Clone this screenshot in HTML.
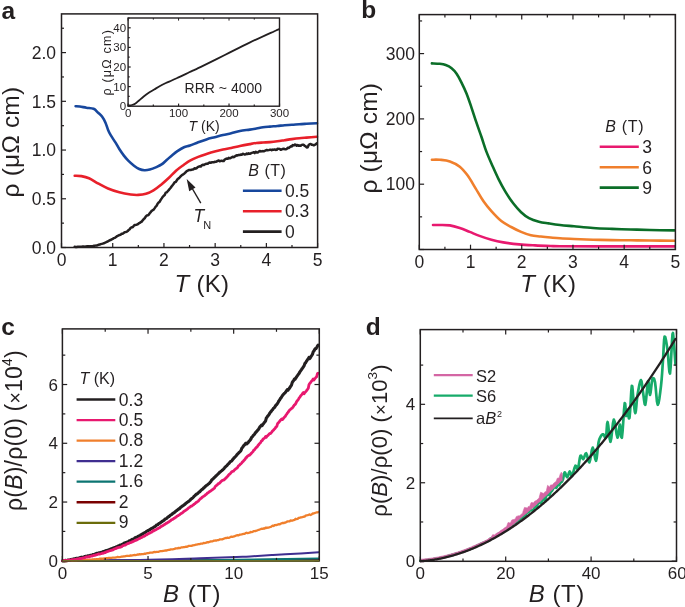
<!DOCTYPE html>
<html><head><meta charset="utf-8"><style>
html,body{margin:0;padding:0;background:#fff;}
body{width:685px;height:607px;overflow:hidden;}
svg{display:block;will-change:transform;}
text{font-family:"Liberation Sans", sans-serif;}
</style></head><body>
<svg width="685" height="607" viewBox="0 0 685 607" font-family='"Liberation Sans", sans-serif' fill="#231f20">
<rect width="685" height="607" fill="#fff"/>
<path d="M75.6,106.2 C76.3,106.25 78,106.25 79.8,106.5 C81.6,106.75 84.1,107.32 86.4,107.7 C88.7,108.08 91.63,107.95 93.6,108.8 C95.57,109.65 96.77,111.48 98.2,112.8 C99.63,114.12 100.98,115.05 102.2,116.7 C103.42,118.35 104.52,120.5 105.5,122.7 C106.48,124.9 107.23,127.82 108.1,129.9 C108.97,131.98 109.48,133.12 110.7,135.2 C111.92,137.28 113.97,140.1 115.4,142.4 C116.83,144.7 117.88,146.8 119.3,149 C120.72,151.2 122.37,153.62 123.9,155.6 C125.43,157.58 126.82,159.22 128.5,160.9 C130.18,162.58 132.22,164.35 134,165.7 C135.78,167.05 137.45,168.23 139.2,169 C140.95,169.77 142.73,170.2 144.5,170.3 C146.27,170.4 147.82,170.13 149.8,169.6 C151.78,169.07 154.43,167.97 156.4,167.1 C158.37,166.23 159.85,165.62 161.6,164.4 C163.35,163.18 165.13,161.33 166.9,159.8 C168.67,158.27 170.45,156.63 172.2,155.2 C173.95,153.77 175.43,152.52 177.4,151.2 C179.37,149.88 181.9,148.23 184,147.3 C186.1,146.37 187.63,146.43 190,145.6 C192.37,144.77 195.45,143.33 198.2,142.3 C200.95,141.27 203.75,140.25 206.5,139.4 C209.25,138.55 211.95,137.93 214.7,137.2 C217.45,136.47 220.25,135.65 223,135 C225.75,134.35 228.38,133.97 231.2,133.3 C234.02,132.63 236.8,131.62 239.9,131 C243,130.38 247.05,130.02 249.8,129.6 C252.55,129.18 254.2,128.88 256.4,128.5 C258.6,128.12 260.73,127.62 263,127.3 C265.27,126.98 267.62,126.82 270,126.6 C272.38,126.38 274.87,126.23 277.3,126 C279.73,125.77 282.17,125.4 284.6,125.2 C287.03,125 289.47,124.97 291.9,124.8 C294.33,124.63 296.77,124.37 299.2,124.2 C301.63,124.03 303.53,123.95 306.5,123.8 C309.47,123.65 315.25,123.38 317,123.3" fill="none" stroke="#17479d" stroke-width="2.6" stroke-linejoin="round" stroke-linecap="round" />
<path d="M74.7,175.8 C75.82,175.85 79.02,175.7 81.4,176.1 C83.78,176.5 86.15,176.93 89,178.2 C91.85,179.47 95.33,181.98 98.5,183.7 C101.67,185.42 104.53,187.07 108,188.5 C111.47,189.93 115.52,191.3 119.3,192.3 C123.08,193.3 127.53,194.07 130.7,194.5 C133.87,194.93 135.77,195.02 138.3,194.9 C140.83,194.78 143.37,194.55 145.9,193.8 C148.43,193.05 150.97,191.92 153.5,190.4 C156.03,188.88 158.57,186.77 161.1,184.7 C163.63,182.63 166.17,180.38 168.7,178 C171.23,175.62 173.77,172.62 176.3,170.4 C178.83,168.18 181.62,166.33 183.9,164.7 C186.18,163.07 187.62,161.9 190,160.6 C192.38,159.3 195.45,158 198.2,156.9 C200.95,155.8 203.75,154.9 206.5,154 C209.25,153.1 211.95,152.25 214.7,151.5 C217.45,150.75 220.25,150.08 223,149.5 C225.75,148.92 228.38,148.58 231.2,148 C234.02,147.42 236.8,146.65 239.9,146 C243,145.35 247.05,144.6 249.8,144.1 C252.55,143.6 254.2,143.27 256.4,143 C258.6,142.73 260.73,142.65 263,142.5 C265.27,142.35 267.62,142.3 270,142.1 C272.38,141.9 274.87,141.62 277.3,141.3 C279.73,140.98 282.17,140.57 284.6,140.2 C287.03,139.83 289.47,139.43 291.9,139.1 C294.33,138.77 296.77,138.45 299.2,138.2 C301.63,137.95 303.53,137.83 306.5,137.6 C309.47,137.37 315.25,136.93 317,136.8" fill="none" stroke="#e8202a" stroke-width="2.6" stroke-linejoin="round" stroke-linecap="round" />
<path d="M74.7,246.79 L75.7,246.97 L76.7,246.91 L77.7,246.73 L78.7,246.76 L79.7,246.72 L80.7,246.74 L81.7,246.74 L82.7,246.5 L83.7,246.43 L84.7,246.63 L85.7,246.46 L86.7,246.51 L87.7,246.24 L88.7,246.34 L89.7,246.37 L90.7,246.17 L91.7,246.31 L92.7,246.2 L93.7,245.82 L94.7,245.66 L95.7,245.62 L96.7,245.52 L97.7,245.11 L98.7,244.8 L99.7,244.58 L100.7,244.16 L101.7,243.9 L102.7,243.63 L103.7,243.28 L104.7,242.82 L105.7,242.4 L106.7,241.94 L107.7,241.51 L108.7,240.93 L109.7,240.3 L110.7,240 L111.7,239.37 L112.7,238.85 L113.7,238.16 L114.7,237.83 L115.7,237.22 L116.7,236.43 L117.7,235.92 L118.7,235.46 L119.7,234.89 L120.7,234.8 L121.7,233.65 L122.7,233.65 L123.7,233.02 L124.7,232.15 L125.7,232.01 L126.7,231.78 L127.7,231.07 L128.7,229.93 L129.7,229.25 L130.7,227.8 L131.7,227.26 L132.7,227.15 L133.7,225.95 L134.7,224.99 L135.7,224.89 L136.7,224.66 L137.7,224.24 L138.7,223.43 L139.7,222.89 L140.7,222.19 L141.7,221.62 L142.7,220.33 L143.7,219.16 L144.7,218.23 L145.7,216.62 L146.7,215.58 L147.7,215.35 L148.7,214.7 L149.7,213.27 L150.7,212.08 L151.7,210.84 L152.7,210.19 L153.7,209.64 L154.7,208.16 L155.7,206.59 L156.7,205.63 L157.7,203.51 L158.7,202.49 L159.7,201.68 L160.7,199.88 L161.7,198.38 L162.7,196.8 L163.7,195.8 L164.7,195 L165.7,192.62 L166.7,192.36 L167.7,191.23 L168.7,190.16 L169.7,188.83 L170.7,187.75 L171.7,186.23 L172.7,185.1 L173.7,183.76 L174.7,182.15 L175.7,182 L176.7,180.56 L177.7,179.06 L178.7,178.4 L179.7,177.37 L180.7,176.24 L181.7,175.29 L182.7,174.63 L183.7,173.92 L184.7,173.17 L185.7,172.32 L186.7,171.12 L187.7,170.7 L188.7,170.08 L189.7,170.12 L190.7,170.08 L191.7,169.7 L192.7,169.42 L193.7,169.17 L194.7,168.23 L195.7,168.66 L196.7,168.18 L197.7,167.17 L198.7,166.73 L199.7,166.27 L200.7,166.6 L201.7,165.42 L202.7,164.82 L203.7,165.12 L204.7,164.53 L205.7,163.94 L206.7,163.72 L207.7,163.73 L208.7,162.82 L209.7,162.51 L210.7,162.74 L211.7,162.32 L212.7,162.17 L213.7,162.36 L214.7,161.73 L215.7,161.88 L216.7,161.53 L217.7,160.86 L218.7,160.47 L219.7,161.32 L220.7,160.93 L221.7,160.66 L222.7,161.08 L223.7,161.03 L224.7,159.56 L225.7,158.95 L226.7,158.55 L227.7,158.84 L228.7,157.88 L229.7,158.28 L230.7,157.97 L231.7,157.48 L232.7,156.7 L233.7,157.19 L234.7,156.59 L235.7,155.9 L236.7,155.24 L237.7,155.5 L238.7,154.98 L239.7,155 L240.7,154.52 L241.7,154.71 L242.7,153.86 L243.7,153.97 L244.7,154.61 L245.7,154.35 L246.7,153.52 L247.7,154.04 L248.7,153.24 L249.7,153.84 L250.7,153.46 L251.7,152.93 L252.7,152.6 L253.7,152.17 L254.7,153.06 L255.7,151.88 L256.7,152.61 L257.7,152.52 L258.7,151.73 L259.7,150.92 L260.7,151.44 L261.7,151.36 L262.7,151.09 L263.7,151.16 L264.7,150.96 L265.7,150.48 L266.7,149.89 L267.7,150.37 L268.7,150.15 L269.7,149.85 L270.7,149.65 L271.7,150.2 L272.7,149.62 L273.7,149.73 L274.7,149.38 L275.7,149.91 L276.7,149.84 L277.7,148.69 L278.7,148.86 L279.7,148.99 L280.7,149.76 L281.7,149.5 L282.7,148.94 L283.7,148.74 L284.7,149.19 L285.7,149.2 L286.7,148.99 L287.7,147.84 L288.7,148.02 L289.7,147.21 L290.7,146.37 L291.7,146.42 L292.7,145.09 L293.7,145.43 L294.7,144.59 L295.7,144.75 L296.7,145.77 L297.7,145.06 L298.7,145.8 L299.7,145.58 L300.7,145.7 L301.7,144.89 L302.7,144.68 L303.7,144.68 L304.7,145.88 L305.7,146.38 L306.7,147.46 L307.7,147.19 L308.7,144.89 L309.7,144.12 L310.7,143.89 L311.7,144.64 L312.7,144.71 L313.7,145.32 L314.7,144.78 L315.7,144.33 L316.7,143.25" fill="none" stroke="#231f20" stroke-width="2.5" stroke-linejoin="round" stroke-linecap="round" />
<line x1="200.8" y1="203.1" x2="190.5" y2="185.5" stroke="#231f20" stroke-width="1.4"/>
<polygon points="186.7,179.1 189.2,191.2 195.5,187.4" fill="#231f20"/>
<text x="193.4" y="221.9" font-size="17.5" text-anchor="start" font-style="italic">T</text>
<text x="203.2" y="228.7" font-size="11" text-anchor="start" >N</text>
<line x1="242.9" y1="190.8" x2="281.6" y2="190.8" stroke="#17479d" stroke-width="2.6"/>
<text x="284.9" y="197.1" font-size="17.5" text-anchor="start" >0.5</text>
<line x1="242.9" y1="211.2" x2="281.6" y2="211.2" stroke="#e8202a" stroke-width="2.6"/>
<text x="284.9" y="217.45" font-size="17.5" text-anchor="start" >0.3</text>
<line x1="242.9" y1="231.6" x2="281.6" y2="231.6" stroke="#231f20" stroke-width="2.6"/>
<text x="284.9" y="237.8" font-size="17.5" text-anchor="start" >0</text>
<text x="248.3" y="176" font-size="16" text-anchor="start" textLength="37.6" lengthAdjust="spacing"><tspan font-style="italic">B</tspan> (T)</text>
<line x1="61.5" y1="247.5" x2="61.5" y2="243" stroke="#231f20" stroke-width="1.2"/>
<line x1="112.72" y1="247.5" x2="112.72" y2="243" stroke="#231f20" stroke-width="1.2"/>
<line x1="163.94" y1="247.5" x2="163.94" y2="243" stroke="#231f20" stroke-width="1.2"/>
<line x1="215.16" y1="247.5" x2="215.16" y2="243" stroke="#231f20" stroke-width="1.2"/>
<line x1="266.38" y1="247.5" x2="266.38" y2="243" stroke="#231f20" stroke-width="1.2"/>
<line x1="317.6" y1="247.5" x2="317.6" y2="243" stroke="#231f20" stroke-width="1.2"/>
<line x1="87.11" y1="247.5" x2="87.11" y2="245" stroke="#231f20" stroke-width="1.2"/>
<line x1="138.33" y1="247.5" x2="138.33" y2="245" stroke="#231f20" stroke-width="1.2"/>
<line x1="189.55" y1="247.5" x2="189.55" y2="245" stroke="#231f20" stroke-width="1.2"/>
<line x1="240.77" y1="247.5" x2="240.77" y2="245" stroke="#231f20" stroke-width="1.2"/>
<line x1="291.99" y1="247.5" x2="291.99" y2="245" stroke="#231f20" stroke-width="1.2"/>
<line x1="61.5" y1="247.5" x2="66" y2="247.5" stroke="#231f20" stroke-width="1.2"/>
<line x1="61.5" y1="198.78" x2="66" y2="198.78" stroke="#231f20" stroke-width="1.2"/>
<line x1="61.5" y1="150.05" x2="66" y2="150.05" stroke="#231f20" stroke-width="1.2"/>
<line x1="61.5" y1="101.32" x2="66" y2="101.32" stroke="#231f20" stroke-width="1.2"/>
<line x1="61.5" y1="52.6" x2="66" y2="52.6" stroke="#231f20" stroke-width="1.2"/>
<line x1="61.5" y1="223.14" x2="64" y2="223.14" stroke="#231f20" stroke-width="1.2"/>
<line x1="61.5" y1="174.41" x2="64" y2="174.41" stroke="#231f20" stroke-width="1.2"/>
<line x1="61.5" y1="125.69" x2="64" y2="125.69" stroke="#231f20" stroke-width="1.2"/>
<line x1="61.5" y1="76.96" x2="64" y2="76.96" stroke="#231f20" stroke-width="1.2"/>
<line x1="61.5" y1="28.24" x2="64" y2="28.24" stroke="#231f20" stroke-width="1.2"/>
<rect x="61.5" y="13.9" width="256.1" height="233.6" fill="none" stroke="#231f20" stroke-width="1.5"/>
<text x="61.5" y="266.3" font-size="17.5" text-anchor="middle" >0</text>
<text x="112.72" y="266.3" font-size="17.5" text-anchor="middle" >1</text>
<text x="163.94" y="266.3" font-size="17.5" text-anchor="middle" >2</text>
<text x="215.16" y="266.3" font-size="17.5" text-anchor="middle" >3</text>
<text x="266.38" y="266.3" font-size="17.5" text-anchor="middle" >4</text>
<text x="317.6" y="266.3" font-size="17.5" text-anchor="middle" >5</text>
<text x="56.1" y="253.8" font-size="17.5" text-anchor="end" >0.0</text>
<text x="56.1" y="205.08" font-size="17.5" text-anchor="end" >0.5</text>
<text x="56.1" y="156.35" font-size="17.5" text-anchor="end" >1.0</text>
<text x="56.1" y="107.62" font-size="17.5" text-anchor="end" >1.5</text>
<text x="56.1" y="58.9" font-size="17.5" text-anchor="end" >2.0</text>
<text x="174.6" y="291.5" font-size="24" text-anchor="start" textLength="54.4" lengthAdjust="spacing"><tspan font-style="italic">T</tspan> (K)</text>
<text transform="translate(19.3,197.4) rotate(-90)" font-size="24.5" textLength="110.5" lengthAdjust="spacing">ρ (μΩ cm)</text>
<text x="1.5" y="18.6" font-size="24.5" text-anchor="start" font-weight="bold">a</text>
<path d="M128.4,105.5 C129,105.42 130.82,105.33 132,105 C133.18,104.67 134.33,104.25 135.5,103.5 C136.67,102.75 137.63,101.67 139,100.5 C140.37,99.33 142.13,97.75 143.7,96.5 C145.27,95.25 146.65,94.17 148.4,93 C150.15,91.83 152.27,90.67 154.2,89.5 C156.13,88.33 158.05,87.08 160,86 C161.95,84.92 163.95,83.92 165.9,83 C167.85,82.08 169.75,81.37 171.7,80.5 C173.65,79.63 175.65,78.7 177.6,77.8 C179.55,76.9 181.47,76.02 183.4,75.1 C185.33,74.18 187.25,73.22 189.2,72.3 C191.15,71.38 193.15,70.5 195.1,69.6 C197.05,68.7 195.95,69.33 200.9,66.9 C205.85,64.47 216.68,59.05 224.8,55 C232.92,50.95 241.33,46.57 249.6,42.6 C257.87,38.63 269.5,33.43 274.4,31.2 C279.3,28.97 278.23,29.53 279,29.2" fill="none" stroke="#231f20" stroke-width="1.8" stroke-linejoin="round" stroke-linecap="round" />
<line x1="128.1" y1="106.2" x2="128.1" y2="103.6" stroke="#231f20" stroke-width="1.2"/>
<line x1="178.57" y1="106.2" x2="178.57" y2="103.6" stroke="#231f20" stroke-width="1.2"/>
<line x1="229.03" y1="106.2" x2="229.03" y2="103.6" stroke="#231f20" stroke-width="1.2"/>
<line x1="279.5" y1="106.2" x2="279.5" y2="103.6" stroke="#231f20" stroke-width="1.2"/>
<line x1="153.33" y1="106.2" x2="153.33" y2="104.6" stroke="#231f20" stroke-width="1.2"/>
<line x1="203.8" y1="106.2" x2="203.8" y2="104.6" stroke="#231f20" stroke-width="1.2"/>
<line x1="254.27" y1="106.2" x2="254.27" y2="104.6" stroke="#231f20" stroke-width="1.2"/>
<line x1="128.1" y1="18" x2="128.1" y2="20.6" stroke="#231f20" stroke-width="1.0"/>
<line x1="153.33" y1="18" x2="153.33" y2="19.6" stroke="#231f20" stroke-width="1.0"/>
<line x1="178.57" y1="18" x2="178.57" y2="20.6" stroke="#231f20" stroke-width="1.0"/>
<line x1="203.8" y1="18" x2="203.8" y2="19.6" stroke="#231f20" stroke-width="1.0"/>
<line x1="229.03" y1="18" x2="229.03" y2="20.6" stroke="#231f20" stroke-width="1.0"/>
<line x1="254.27" y1="18" x2="254.27" y2="19.6" stroke="#231f20" stroke-width="1.0"/>
<line x1="279.5" y1="18" x2="279.5" y2="20.6" stroke="#231f20" stroke-width="1.0"/>
<line x1="128.1" y1="106.2" x2="130.7" y2="106.2" stroke="#231f20" stroke-width="1.2"/>
<line x1="128.1" y1="86.6" x2="130.7" y2="86.6" stroke="#231f20" stroke-width="1.2"/>
<line x1="128.1" y1="67" x2="130.7" y2="67" stroke="#231f20" stroke-width="1.2"/>
<line x1="128.1" y1="47.4" x2="130.7" y2="47.4" stroke="#231f20" stroke-width="1.2"/>
<line x1="128.1" y1="27.8" x2="130.7" y2="27.8" stroke="#231f20" stroke-width="1.2"/>
<line x1="128.1" y1="96.4" x2="129.7" y2="96.4" stroke="#231f20" stroke-width="1.2"/>
<line x1="128.1" y1="76.8" x2="129.7" y2="76.8" stroke="#231f20" stroke-width="1.2"/>
<line x1="128.1" y1="57.2" x2="129.7" y2="57.2" stroke="#231f20" stroke-width="1.2"/>
<line x1="128.1" y1="37.6" x2="129.7" y2="37.6" stroke="#231f20" stroke-width="1.2"/>
<line x1="128.1" y1="18" x2="129.7" y2="18" stroke="#231f20" stroke-width="1.2"/>
<rect x="128.1" y="18" width="151.4" height="88.2" fill="none" stroke="#231f20" stroke-width="1.4"/>
<text x="128.1" y="117.4" font-size="11.5" text-anchor="middle" >0</text>
<text x="178.57" y="117.4" font-size="11.5" text-anchor="middle" >100</text>
<text x="229.03" y="117.4" font-size="11.5" text-anchor="middle" >200</text>
<text x="279.5" y="117.4" font-size="11.5" text-anchor="middle" >300</text>
<text x="126.1" y="110.2" font-size="11.5" text-anchor="end" >0</text>
<text x="126.1" y="90.6" font-size="11.5" text-anchor="end" >10</text>
<text x="126.1" y="71" font-size="11.5" text-anchor="end" >20</text>
<text x="126.1" y="51.4" font-size="11.5" text-anchor="end" >30</text>
<text x="126.1" y="31.8" font-size="11.5" text-anchor="end" >40</text>
<text x="188.6" y="131.4" font-size="14" text-anchor="start" ><tspan font-style="italic">T</tspan> (K)</text>
<text x="184.6" y="92.8" font-size="14" text-anchor="start" >RRR ~ 4000</text>
<text transform="translate(111.2,95.6) rotate(-90)" font-size="12.5" textLength="65.5" lengthAdjust="spacing">ρ (μΩ cm)</text>
<path d="M431.9,63.4 C433.22,63.47 437.5,63.53 439.8,63.8 C442.1,64.07 443.73,64.27 445.7,65 C447.67,65.73 449.78,66.75 451.6,68.2 C453.42,69.65 454.95,71.3 456.6,73.7 C458.25,76.1 459.85,79.3 461.5,82.6 C463.15,85.9 464.85,89.38 466.5,93.5 C468.15,97.62 469.77,102.52 471.4,107.3 C473.03,112.08 474.62,117.25 476.3,122.2 C477.98,127.15 479.8,132.05 481.5,137 C483.2,141.95 484.68,147.12 486.5,151.9 C488.32,156.68 490.43,161.25 492.4,165.7 C494.37,170.15 496.17,174.32 498.3,178.6 C500.43,182.88 502.72,187.28 505.2,191.4 C507.68,195.52 510.55,199.83 513.2,203.3 C515.85,206.77 518.47,209.73 521.1,212.2 C523.73,214.67 526.03,216.52 529,218.1 C531.97,219.68 535.62,220.82 538.9,221.7 C542.18,222.58 545.18,222.85 548.7,223.4 C552.22,223.95 555.78,224.52 560,225 C564.22,225.48 568.5,225.8 574,226.3 C579.5,226.8 586.67,227.57 593,228 C599.33,228.43 605.68,228.65 612,228.9 C618.32,229.15 624.58,229.32 630.9,229.5 C637.22,229.68 642.63,229.85 649.9,230 C657.17,230.15 670.4,230.33 674.5,230.4" fill="none" stroke="#0b6e28" stroke-width="2.6" stroke-linejoin="round" stroke-linecap="round" />
<path d="M431.9,159.7 C433.25,159.72 437,159.52 440,159.8 C443,160.08 446.6,160.25 449.9,161.4 C453.2,162.55 456.83,164.33 459.8,166.7 C462.77,169.07 465.07,171.98 467.7,175.6 C470.33,179.22 472.97,184.12 475.6,188.4 C478.23,192.68 480.87,197.5 483.5,201.3 C486.13,205.1 488.43,207.9 491.4,211.2 C494.37,214.5 498,218.47 501.3,221.1 C504.6,223.73 507.9,225.2 511.2,227 C514.5,228.8 517.82,230.52 521.1,231.9 C524.38,233.28 527.62,234.53 530.9,235.3 C534.18,236.07 537.5,236.13 540.8,236.5 C544.1,236.87 547.5,237.2 550.7,237.5 C553.9,237.8 556.12,238.05 560,238.3 C563.88,238.55 568.5,238.77 574,239 C579.5,239.23 586.67,239.52 593,239.7 C599.33,239.88 605.68,240 612,240.1 C618.32,240.2 624.58,240.23 630.9,240.3 C637.22,240.37 642.63,240.43 649.9,240.5 C657.17,240.57 670.4,240.67 674.5,240.7" fill="none" stroke="#f07f2c" stroke-width="2.6" stroke-linejoin="round" stroke-linecap="round" />
<path d="M433,225 C434.17,225 437.18,224.93 440,225 C442.82,225.07 446.6,224.9 449.9,225.4 C453.2,225.9 456.5,226.92 459.8,228 C463.1,229.08 466.42,230.58 469.7,231.9 C472.98,233.22 475.88,234.58 479.5,235.9 C483.12,237.22 487.43,238.72 491.4,239.8 C495.37,240.88 498.68,241.63 503.3,242.4 C507.92,243.17 513.83,243.9 519.1,244.4 C524.37,244.9 529.63,245.13 534.9,245.4 C540.17,245.67 546.52,245.87 550.7,246 C554.88,246.13 551.78,246.13 560,246.2 C568.22,246.27 580.92,246.37 600,246.4 C619.08,246.43 662.08,246.4 674.5,246.4" fill="none" stroke="#e8196f" stroke-width="2.6" stroke-linejoin="round" stroke-linecap="round" />
<line x1="599.7" y1="146.8" x2="638.8" y2="146.8" stroke="#e8196f" stroke-width="2.6"/>
<text x="642.2" y="153.3" font-size="17.5" text-anchor="start" >3</text>
<line x1="599.7" y1="167.2" x2="638.8" y2="167.2" stroke="#f07f2c" stroke-width="2.6"/>
<text x="642.2" y="173.5" font-size="17.5" text-anchor="start" >6</text>
<line x1="599.7" y1="187.6" x2="638.8" y2="187.6" stroke="#0b6e28" stroke-width="2.6"/>
<text x="642.2" y="193.7" font-size="17.5" text-anchor="start" >9</text>
<text x="605.3" y="131.9" font-size="16" text-anchor="start" textLength="38.3" lengthAdjust="spacing"><tspan font-style="italic">B</tspan> (T)</text>
<line x1="419.3" y1="249.5" x2="419.3" y2="244.7" stroke="#231f20" stroke-width="1.2"/>
<line x1="470.52" y1="249.5" x2="470.52" y2="244.7" stroke="#231f20" stroke-width="1.2"/>
<line x1="521.74" y1="249.5" x2="521.74" y2="244.7" stroke="#231f20" stroke-width="1.2"/>
<line x1="572.96" y1="249.5" x2="572.96" y2="244.7" stroke="#231f20" stroke-width="1.2"/>
<line x1="624.18" y1="249.5" x2="624.18" y2="244.7" stroke="#231f20" stroke-width="1.2"/>
<line x1="675.4" y1="249.5" x2="675.4" y2="244.7" stroke="#231f20" stroke-width="1.2"/>
<line x1="444.91" y1="249.5" x2="444.91" y2="246.7" stroke="#231f20" stroke-width="1.2"/>
<line x1="496.13" y1="249.5" x2="496.13" y2="246.7" stroke="#231f20" stroke-width="1.2"/>
<line x1="547.35" y1="249.5" x2="547.35" y2="246.7" stroke="#231f20" stroke-width="1.2"/>
<line x1="598.57" y1="249.5" x2="598.57" y2="246.7" stroke="#231f20" stroke-width="1.2"/>
<line x1="649.79" y1="249.5" x2="649.79" y2="246.7" stroke="#231f20" stroke-width="1.2"/>
<line x1="419.3" y1="14.6" x2="419.3" y2="19.4" stroke="#231f20" stroke-width="1.2"/>
<line x1="444.91" y1="14.6" x2="444.91" y2="17.4" stroke="#231f20" stroke-width="1.2"/>
<line x1="470.52" y1="14.6" x2="470.52" y2="19.4" stroke="#231f20" stroke-width="1.2"/>
<line x1="496.13" y1="14.6" x2="496.13" y2="17.4" stroke="#231f20" stroke-width="1.2"/>
<line x1="521.74" y1="14.6" x2="521.74" y2="19.4" stroke="#231f20" stroke-width="1.2"/>
<line x1="547.35" y1="14.6" x2="547.35" y2="17.4" stroke="#231f20" stroke-width="1.2"/>
<line x1="572.96" y1="14.6" x2="572.96" y2="19.4" stroke="#231f20" stroke-width="1.2"/>
<line x1="598.57" y1="14.6" x2="598.57" y2="17.4" stroke="#231f20" stroke-width="1.2"/>
<line x1="624.18" y1="14.6" x2="624.18" y2="19.4" stroke="#231f20" stroke-width="1.2"/>
<line x1="649.79" y1="14.6" x2="649.79" y2="17.4" stroke="#231f20" stroke-width="1.2"/>
<line x1="675.4" y1="14.6" x2="675.4" y2="19.4" stroke="#231f20" stroke-width="1.2"/>
<line x1="419.3" y1="249.5" x2="424.1" y2="249.5" stroke="#231f20" stroke-width="1.2"/>
<line x1="419.3" y1="184.2" x2="424.1" y2="184.2" stroke="#231f20" stroke-width="1.2"/>
<line x1="419.3" y1="118.9" x2="424.1" y2="118.9" stroke="#231f20" stroke-width="1.2"/>
<line x1="419.3" y1="53.6" x2="424.1" y2="53.6" stroke="#231f20" stroke-width="1.2"/>
<line x1="419.3" y1="216.85" x2="422.1" y2="216.85" stroke="#231f20" stroke-width="1.2"/>
<line x1="419.3" y1="151.55" x2="422.1" y2="151.55" stroke="#231f20" stroke-width="1.2"/>
<line x1="419.3" y1="86.25" x2="422.1" y2="86.25" stroke="#231f20" stroke-width="1.2"/>
<line x1="419.3" y1="20.95" x2="422.1" y2="20.95" stroke="#231f20" stroke-width="1.2"/>
<rect x="419.3" y="14.6" width="256.1" height="234.9" fill="none" stroke="#231f20" stroke-width="1.5"/>
<text x="419.3" y="268" font-size="17.5" text-anchor="middle" >0</text>
<text x="470.52" y="268" font-size="17.5" text-anchor="middle" >1</text>
<text x="521.74" y="268" font-size="17.5" text-anchor="middle" >2</text>
<text x="572.96" y="268" font-size="17.5" text-anchor="middle" >3</text>
<text x="624.18" y="268" font-size="17.5" text-anchor="middle" >4</text>
<text x="675.4" y="268" font-size="17.5" text-anchor="middle" >5</text>
<text x="414.9" y="190.4" font-size="17.5" text-anchor="end" >100</text>
<text x="414.9" y="125.1" font-size="17.5" text-anchor="end" >200</text>
<text x="414.9" y="59.8" font-size="17.5" text-anchor="end" >300</text>
<text x="520.2" y="291.9" font-size="24" text-anchor="start" textLength="55.8" lengthAdjust="spacing"><tspan font-style="italic">T</tspan> (K)</text>
<text transform="translate(376.6,193.5) rotate(-90)" font-size="24.5" textLength="110.5" lengthAdjust="spacing">ρ (μΩ cm)</text>
<text x="361.2" y="18.1" font-size="24.5" text-anchor="start" font-weight="bold">b</text>
<path d="M62.6,560.9 C105.27,560.87 275.93,560.73 318.6,560.7" fill="none" stroke="#6b6c0b" stroke-width="2.0" stroke-linejoin="round" stroke-linecap="round" />
<path d="M62.6,560.9 C85.5,560.8 157.3,560.55 200,560.3 C242.7,560.05 299,559.55 318.8,559.4" fill="none" stroke="#7a0000" stroke-width="2.0" stroke-linejoin="round" stroke-linecap="round" />
<path d="M62.6,560.8 C85.5,560.7 157.33,560.6 200,560.2 C242.67,559.8 298.83,558.7 318.6,558.4" fill="none" stroke="#0c7572" stroke-width="2.0" stroke-linejoin="round" stroke-linecap="round" />
<path d="M62.6,560.8 C75.5,560.65 117.1,560.33 140,559.9 C162.9,559.47 183.92,558.68 200,558.2 C216.08,557.72 228.17,557.28 236.5,557 C244.83,556.72 243.92,556.83 250,556.5 C256.08,556.17 264.6,555.5 273,555 C281.4,554.5 292.77,553.95 300.4,553.5 C308.03,553.05 315.73,552.5 318.8,552.3" fill="none" stroke="#3f2e90" stroke-width="2.0" stroke-linejoin="round" stroke-linecap="round" />
<path d="M62.6,561.14 L63.6,561.16 L64.6,561.09 L65.6,561.09 L66.6,561.06 L67.6,560.89 L68.6,560.83 L69.6,560.97 L70.6,560.79 L71.6,560.73 L72.6,560.86 L73.6,560.68 L74.6,560.72 L75.6,560.57 L76.6,560.56 L77.6,560.38 L78.6,560.44 L79.6,560.44 L80.6,560.29 L81.6,560.29 L82.6,560.2 L83.6,559.98 L84.6,560.1 L85.6,559.98 L86.6,559.83 L87.6,559.69 L88.6,559.85 L89.6,559.66 L90.6,559.66 L91.6,559.63 L92.6,559.51 L93.6,559.49 L94.6,559.25 L95.6,559.3 L96.6,559.11 L97.6,559.17 L98.6,559.07 L99.6,558.74 L100.6,558.66 L101.6,558.6 L102.6,558.75 L103.6,558.49 L104.6,558.46 L105.6,558.26 L106.6,558.23 L107.6,558.09 L108.6,557.98 L109.6,557.96 L110.6,557.86 L111.6,557.88 L112.6,557.69 L113.6,557.68 L114.6,557.55 L115.6,557.49 L116.6,557.27 L117.6,556.97 L118.6,557.12 L119.6,557.05 L120.6,556.92 L121.6,556.67 L122.6,556.62 L123.6,556.3 L124.6,556.43 L125.6,556.21 L126.6,555.97 L127.6,555.76 L128.6,555.96 L129.6,555.89 L130.6,555.39 L131.6,555.56 L132.6,555.27 L133.6,555.03 L134.6,554.96 L135.6,555.04 L136.6,554.95 L137.6,554.45 L138.6,554.57 L139.6,554.18 L140.6,554.34 L141.6,554.03 L142.6,554.14 L143.6,554.04 L144.6,553.68 L145.6,553.77 L146.6,553.31 L147.6,553.05 L148.6,553.15 L149.6,552.73 L150.6,552.66 L151.6,552.61 L152.6,552.55 L153.6,552.18 L154.6,551.97 L155.6,552.22 L156.6,551.79 L157.6,551.95 L158.6,551.76 L159.6,551.34 L160.6,551.22 L161.6,551.09 L162.6,550.99 L163.6,550.8 L164.6,550.61 L165.6,550.48 L166.6,550.48 L167.6,550.08 L168.6,549.87 L169.6,549.85 L170.6,549.42 L171.6,549.28 L172.6,549.47 L173.6,549.05 L174.6,548.88 L175.6,548.41 L176.6,548.45 L177.6,548.36 L178.6,547.86 L179.6,548.01 L180.6,547.84 L181.6,547.33 L182.6,547.46 L183.6,547.18 L184.6,547.12 L185.6,546.74 L186.6,546.75 L187.6,546.58 L188.6,545.96 L189.6,545.79 L190.6,545.96 L191.6,545.94 L192.6,545.3 L193.6,545.23 L194.6,545.11 L195.6,544.74 L196.6,544.57 L197.6,544.33 L198.6,544.16 L199.6,544.09 L200.6,543.7 L201.6,543.54 L202.6,543.58 L203.6,542.89 L204.6,543.03 L205.6,542.92 L206.6,542.43 L207.6,542.16 L208.6,542.33 L209.6,541.74 L210.6,541.48 L211.6,541.43 L212.6,541.38 L213.6,540.76 L214.6,540.68 L215.6,540.47 L216.6,540.58 L217.6,540.09 L218.6,540.15 L219.6,539.44 L220.6,539.33 L221.6,539.32 L222.6,539.25 L223.6,538.71 L224.6,538.32 L225.6,538.01 L226.6,538.06 L227.6,537.58 L228.6,537.79 L229.6,537.57 L230.6,536.86 L231.6,536.68 L232.6,536.83 L233.6,536.46 L234.6,536.34 L235.6,535.75 L236.6,535.35 L237.6,535.22 L238.6,535.35 L239.6,534.7 L240.6,534.51 L241.6,534.31 L242.6,534.06 L243.6,533.8 L244.6,533.93 L245.6,533.09 L246.6,532.71 L247.6,533.18 L248.6,532.88 L249.6,532.7 L250.6,532 L251.6,532.15 L252.6,531.87 L253.6,531.04 L254.6,531.2 L255.6,531 L256.6,530.6 L257.6,530.21 L258.6,529.76 L259.6,529.53 L260.6,529.16 L261.6,528.76 L262.6,528.91 L263.6,528.39 L264.6,528.55 L265.6,527.63 L266.6,528.07 L267.6,527.62 L268.6,527.53 L269.6,527.23 L270.6,526.95 L271.6,526.39 L272.6,525.63 L273.6,525.97 L274.6,525.19 L275.6,525.01 L276.6,525.04 L277.6,524.63 L278.6,524.24 L279.6,524.42 L280.6,523.84 L281.6,523.3 L282.6,522.93 L283.6,523.18 L284.6,522.54 L285.6,522.52 L286.6,521.83 L287.6,521.39 L288.6,521.4 L289.6,521.35 L290.6,520.46 L291.6,520.73 L292.6,520.55 L293.6,520.14 L294.6,519.85 L295.6,518.78 L296.6,519.05 L297.6,518.96 L298.6,517.89 L299.6,517.79 L300.6,517.47 L301.6,517.41 L302.6,516.99 L303.6,516.73 L304.6,516.7 L305.6,515.64 L306.6,515.38 L307.6,515.13 L308.6,514.8 L309.6,514.43 L310.6,514.99 L311.6,514.55 L312.6,513.48 L313.6,513.56 L314.6,513.05 L315.6,512.73 L316.6,512.44 L317.6,512.4 L318.6,512.01" fill="none" stroke="#f07f2c" stroke-width="2.3" stroke-linejoin="round" stroke-linecap="round" />
<path d="M62.6,560.96 L63.3,560.99 L64,560.84 L64.7,560.88 L65.4,560.38 L66.1,560.53 L66.8,560.66 L67.5,560.14 L68.2,560.19 L68.9,559.96 L69.6,559.98 L70.3,559.87 L71,559.46 L71.7,559.42 L72.4,559.49 L73.1,559.04 L73.8,559.22 L74.5,558.74 L75.2,558.83 L75.9,558.43 L76.6,558.2 L77.3,558.27 L78,558.49 L78.7,558.26 L79.4,557.8 L80.1,557.96 L80.8,557.34 L81.5,557.56 L82.2,557.31 L82.9,557.31 L83.6,557.13 L84.3,556.69 L85,556.43 L85.7,556.24 L86.4,556.21 L87.1,556.21 L87.8,555.75 L88.5,555.8 L89.2,555.89 L89.9,555.55 L90.6,555.3 L91.3,555.21 L92,555.28 L92.7,554.62 L93.4,554.8 L94.1,554.66 L94.8,554.09 L95.5,554.01 L96.2,553.52 L96.9,553.34 L97.6,553.21 L98.3,553.39 L99,552.8 L99.7,553.1 L100.4,552.59 L101.1,552.37 L101.8,552.24 L102.5,552.14 L103.2,551.57 L103.9,551.66 L104.6,551.08 L105.3,551.29 L106,550.63 L106.7,550.51 L107.4,550.39 L108.1,550.29 L108.8,549.75 L109.5,549.51 L110.2,549.25 L110.9,548.91 L111.6,548.6 L112.3,548.36 L113,548.36 L113.7,547.78 L114.4,547.97 L115.1,547.46 L115.8,547.11 L116.5,546.74 L117.2,546.47 L117.9,546.16 L118.6,545.68 L119.3,545.81 L120,545.06 L120.7,544.99 L121.4,544.85 L122.1,544.5 L122.8,544.02 L123.5,543.78 L124.2,543.12 L124.9,542.96 L125.6,542.48 L126.3,542.5 L127,542.28 L127.7,541.86 L128.4,541.59 L129.1,540.98 L129.8,540.65 L130.5,540.42 L131.2,539.94 L131.9,539.46 L132.6,539.21 L133.3,539.16 L134,538.78 L134.7,538.13 L135.4,537.63 L136.1,537.35 L136.8,537.22 L137.5,536.89 L138.2,536.25 L138.9,536.06 L139.6,535.66 L140.3,535.31 L141,534.72 L141.7,534.49 L142.4,533.88 L143.1,533.57 L143.8,533.07 L144.5,532.98 L145.2,532.42 L145.9,531.97 L146.6,531.27 L147.3,531.11 L148,530.54 L148.7,530.37 L149.4,529.85 L150.1,529.5 L150.8,528.83 L151.5,528.54 L152.2,528.14 L152.9,527.78 L153.6,527.35 L154.3,526.8 L155,526.49 L155.7,526.02 L156.4,525.1 L157.1,524.98 L157.8,524.56 L158.5,523.86 L159.2,523.49 L159.9,523.03 L160.6,522.63 L161.3,522.04 L162,521.6 L162.7,520.99 L163.4,520.6 L164.1,520.17 L164.8,519.32 L165.5,518.89 L166.2,518.53 L166.9,518.13 L167.6,517.41 L168.3,516.79 L169,516.49 L169.7,515.85 L170.4,515.25 L171.1,514.79 L171.8,514.37 L172.5,513.59 L173.2,513.28 L173.9,512.71 L174.6,512.3 L175.3,511.75 L176,510.94 L176.7,510.61 L177.4,510 L178.1,509.53 L178.8,508.84 L179.5,508.65 L180.2,507.87 L180.9,507.08 L181.6,506.75 L182.3,506.08 L183,505.64 L183.7,505.26 L184.4,504.62 L185.1,504.16 L185.8,503.45 L186.5,502.77 L187.2,502.42 L187.9,501.82 L188.6,501.44 L189.3,500.86 L190,500.36 L190.7,499.32 L191.4,498.79 L192.1,498.42 L192.8,497.85 L193.5,497.05 L194.2,496.18 L194.9,495.6 L195.6,494.88 L196.3,494.29 L197,494.01 L197.7,493.56 L198.4,492.78 L199.1,491.99 L199.8,491.72 L200.5,490.85 L201.2,490.17 L201.9,489.49 L202.6,489.18 L203.3,488.4 L204,487.58 L204.7,487.18 L205.4,486.44 L206.1,485.72 L206.8,485.23 L207.5,484.83 L208.2,484.05 L208.9,483.72 L209.6,482.99 L210.3,482.06 L211,481.4 L211.7,480.03 L212.4,479.51 L213.1,478.76 L213.8,478.16 L214.5,477.45 L215.2,476.83 L215.9,475.82 L216.6,475.44 L217.3,474.72 L218,474 L218.7,473.41 L219.4,472.68 L220.1,471.92 L220.8,471.4 L221.5,470.83 L222.2,470.23 L222.9,469.74 L223.6,469.01 L224.3,468.17 L225,467.27 L225.7,466.62 L226.4,465.96 L227.1,465.46 L227.8,464.47 L228.5,463.74 L229.2,463.23 L229.9,462.16 L230.6,461.46 L231.3,461.28 L232,460.45 L232.7,459.56 L233.4,458.73 L234.1,457.81 L234.8,457.21 L235.5,456.47 L236.2,455.67 L236.9,454.81 L237.6,453.94 L238.3,453.38 L239,452.47 L239.7,451.98 L240.4,451.18 L241.1,450.32 L241.8,448.25 L242.5,447.45 L243.2,446.49 L243.9,445.35 L244.6,444.92 L245.3,443.79 L246,443.18 L246.7,443.9 L247.4,443.17 L248.1,442.66 L248.8,441.46 L249.5,440.87 L250.2,439.95 L250.9,439 L251.6,437.47 L252.3,436.77 L253,435.77 L253.7,434.93 L254.4,434.39 L255.1,433.17 L255.8,432.47 L256.5,431.56 L257.2,430.85 L257.9,429.94 L258.6,429.3 L259.3,427.87 L260,426.73 L260.7,426.1 L261.4,425.16 L262.1,425.57 L262.8,424.47 L263.5,423.7 L264.2,422.63 L264.9,421.96 L265.6,420.92 L266.3,418.07 L267,417.31 L267.7,416.09 L268.4,415.41 L269.1,414.43 L269.8,413.08 L270.5,412.14 L271.2,411.42 L271.9,410.28 L272.6,409.64 L273.3,408.47 L274,407.89 L274.7,407.27 L275.4,405.97 L276.1,405.05 L276.8,404.47 L277.5,403.36 L278.2,402.16 L278.9,400.84 L279.6,399.93 L280.3,398.61 L281,397.86 L281.7,396.73 L282.4,395.67 L283.1,394.72 L283.8,393.86 L284.5,393.3 L285.2,392.69 L285.9,391.64 L286.6,390.76 L287.3,389.61 L288,390.17 L288.7,389.19 L289.4,388.31 L290.1,387.18 L290.8,386.06 L291.5,385.05 L292.2,382.58 L292.9,381.39 L293.6,380.54 L294.3,379.17 L295,379.3 L295.7,378.21 L296.4,377.24 L297.1,376.06 L297.8,375.09 L298.5,374.09 L299.2,373.19 L299.9,371.81 L300.6,370.85 L301.3,369.85 L302,368.78 L302.7,367.82 L303.4,366.78 L304.1,365.88 L304.8,363.65 L305.5,362.9 L306.2,361.74 L306.9,360.7 L307.6,359.56 L308.3,358.76 L309,357.3 L309.7,358.68 L310.4,357.67 L311.1,356.34 L311.8,355.32 L312.5,354.19 L313.2,351.82 L313.9,351.05 L314.6,349.69 L315.3,348.6 L316,348.58 L316.7,347.51 L317.4,346.17 L318.1,345.14" fill="none" stroke="#231f20" stroke-width="3.1" stroke-linejoin="round" stroke-linecap="round" />
<path d="M62.6,560.68 L63.3,560.5 L64,560.39 L64.7,560.5 L65.4,560.75 L66.1,560.41 L66.8,560.49 L67.5,560.29 L68.2,560.16 L68.9,560.04 L69.6,560.01 L70.3,560.22 L71,560.13 L71.7,559.74 L72.4,559.7 L73.1,559.76 L73.8,559.72 L74.5,559.67 L75.2,559.44 L75.9,559.36 L76.6,559.17 L77.3,558.89 L78,559.07 L78.7,558.92 L79.4,558.64 L80.1,558.39 L80.8,558.64 L81.5,558.49 L82.2,558.19 L82.9,558.01 L83.6,557.97 L84.3,557.74 L85,557.64 L85.7,557.11 L86.4,556.96 L87.1,557.1 L87.8,556.78 L88.5,556.73 L89.2,556.9 L89.9,556.33 L90.6,556.28 L91.3,556.01 L92,556.05 L92.7,555.88 L93.4,555.5 L94.1,555.44 L94.8,555.43 L95.5,554.85 L96.2,554.95 L96.9,554.69 L97.6,554.31 L98.3,554.16 L99,553.89 L99.7,554.03 L100.4,553.93 L101.1,553.76 L101.8,553.44 L102.5,553.11 L103.2,553.23 L103.9,552.92 L104.6,552.53 L105.3,552.51 L106,552.02 L106.7,551.75 L107.4,551.65 L108.1,551.26 L108.8,551.15 L109.5,550.74 L110.2,550.52 L110.9,550.34 L111.6,550.4 L112.3,549.95 L113,549.87 L113.7,549.34 L114.4,548.98 L115.1,548.65 L115.8,548.66 L116.5,548.13 L117.2,547.81 L117.9,547.77 L118.6,547.38 L119.3,547.44 L120,547.29 L120.7,546.83 L121.4,546.84 L122.1,546.31 L122.8,545.65 L123.5,545.56 L124.2,545.18 L124.9,545.21 L125.6,544.89 L126.3,544.42 L127,543.95 L127.7,543.64 L128.4,543.34 L129.1,543.36 L129.8,542.68 L130.5,542.59 L131.2,542.48 L131.9,541.87 L132.6,541.8 L133.3,541.36 L134,541.1 L134.7,540.75 L135.4,540.24 L136.1,540.24 L136.8,539.92 L137.5,539.6 L138.2,539.16 L138.9,538.74 L139.6,538.48 L140.3,537.99 L141,537.71 L141.7,537.37 L142.4,537.14 L143.1,536.34 L143.8,536.43 L144.5,536.06 L145.2,535.55 L145.9,534.87 L146.6,534.93 L147.3,534.41 L148,533.74 L148.7,533.41 L149.4,533.27 L150.1,532.85 L150.8,532.56 L151.5,532.26 L152.2,531.52 L152.9,531 L153.6,531.04 L154.3,530.26 L155,530.21 L155.7,529.79 L156.4,529.43 L157.1,528.86 L157.8,528.69 L158.5,528.11 L159.2,527.98 L159.9,527.5 L160.6,526.93 L161.3,526.22 L162,526.08 L162.7,525.6 L163.4,525.36 L164.1,524.69 L164.8,524.46 L165.5,523.9 L166.2,523.21 L166.9,523.18 L167.6,522.64 L168.3,522.11 L169,521.87 L169.7,521.18 L170.4,520.93 L171.1,520.04 L171.8,519.59 L172.5,519.37 L173.2,519.04 L173.9,518.39 L174.6,518.11 L175.3,517.28 L176,517.22 L176.7,516.4 L177.4,515.97 L178.1,515.76 L178.8,515.07 L179.5,514.96 L180.2,514.13 L180.9,513.63 L181.6,513.32 L182.3,512.75 L183,512.32 L183.7,511.47 L184.4,511.13 L185.1,510.74 L185.8,510.21 L186.5,509.82 L187.2,509.19 L187.9,508.59 L188.6,507.82 L189.3,507.51 L190,507.09 L190.7,506.38 L191.4,506.09 L192.1,505.87 L192.8,505.12 L193.5,504.81 L194.2,503.98 L194.9,503.73 L195.6,503.06 L196.3,502.37 L197,502.15 L197.7,501.41 L198.4,501.01 L199.1,500.2 L199.8,499.41 L200.5,498.53 L201.2,498.33 L201.9,497.5 L202.6,497.03 L203.3,496.47 L204,496.05 L204.7,495.75 L205.4,494.8 L206.1,494.46 L206.8,493.72 L207.5,492.94 L208.2,492.82 L208.9,492.18 L209.6,491.58 L210.3,491.2 L211,490.83 L211.7,490.2 L212.4,489.65 L213.1,489.24 L213.8,488.56 L214.5,488.07 L215.2,486.52 L215.9,485.95 L216.6,485.27 L217.3,484.76 L218,483.88 L218.7,483.57 L219.4,483.3 L220.1,482.58 L220.8,481.76 L221.5,481.1 L222.2,480.52 L222.9,480.04 L223.6,480.09 L224.3,479.47 L225,479.05 L225.7,478.16 L226.4,477.59 L227.1,476.76 L227.8,476.21 L228.5,475.13 L229.2,474.35 L229.9,474 L230.6,473.18 L231.3,472.3 L232,471.6 L232.7,471.39 L233.4,471.24 L234.1,470.44 L234.8,469.67 L235.5,469.1 L236.2,468.42 L236.9,468.11 L237.6,467.42 L238.3,466.08 L239,465.43 L239.7,465.08 L240.4,464.01 L241.1,463.65 L241.8,462.88 L242.5,461.84 L243.2,461.29 L243.9,460.41 L244.6,459.69 L245.3,458.96 L246,457.62 L246.7,457.38 L247.4,456.32 L248.1,455.91 L248.8,455.1 L249.5,455.3 L250.2,454.56 L250.9,453.76 L251.6,452.97 L252.3,452.32 L253,451.62 L253.7,450.26 L254.4,449.88 L255.1,448.97 L255.8,448.03 L256.5,447.35 L257.2,446.97 L257.9,445.53 L258.6,444.87 L259.3,443.86 L260,443.14 L260.7,442.41 L261.4,440.97 L262.1,440.68 L262.8,439.52 L263.5,438.76 L264.2,438.35 L264.9,437.57 L265.6,436.51 L266.3,437.17 L267,436.14 L267.7,435.69 L268.4,435.01 L269.1,434.09 L269.8,433.43 L270.5,433.52 L271.2,432.74 L271.9,431.85 L272.6,430.83 L273.3,430.31 L274,429.48 L274.7,428.83 L275.4,427.88 L276.1,426.79 L276.8,426.27 L277.5,423.83 L278.2,422.82 L278.9,422.29 L279.6,421.32 L280.3,420.34 L281,419.75 L281.7,418.94 L282.4,419.64 L283.1,418.82 L283.8,417.94 L284.5,417.06 L285.2,416.45 L285.9,415.29 L286.6,414.31 L287.3,413.21 L288,412.39 L288.7,411.36 L289.4,410.48 L290.1,409.56 L290.8,409.09 L291.5,408.47 L292.2,408.06 L292.9,407.15 L293.6,406.16 L294.3,405.07 L295,404.65 L295.7,403.69 L296.4,402.07 L297.1,400.87 L297.8,400.24 L298.5,399.22 L299.2,397.89 L299.9,397.06 L300.6,395.94 L301.3,395.12 L302,394.36 L302.7,393.2 L303.4,392.52 L304.1,393.75 L304.8,392.6 L305.5,391.92 L306.2,391.1 L306.9,390.19 L307.6,389.18 L308.3,388.17 L309,384.64 L309.7,383.41 L310.4,382.76 L311.1,381.68 L311.8,380.89 L312.5,380.09 L313.2,378.93 L313.9,380.08 L314.6,378.94 L315.3,378.16 L316,377.26 L316.7,376.67 L317.4,373.72 L318.1,373.25" fill="none" stroke="#e8186f" stroke-width="2.8" stroke-linejoin="round" stroke-linecap="round" />
<line x1="76.6" y1="399.5" x2="115.3" y2="399.5" stroke="#231f20" stroke-width="2.6"/>
<text x="118.8" y="405.6" font-size="17.5" text-anchor="start" >0.3</text>
<line x1="76.6" y1="420.05" x2="115.3" y2="420.05" stroke="#e8186f" stroke-width="2.3"/>
<text x="118.8" y="426" font-size="17.5" text-anchor="start" >0.5</text>
<line x1="76.6" y1="440.6" x2="115.3" y2="440.6" stroke="#f07f2c" stroke-width="2.3"/>
<text x="118.8" y="446.4" font-size="17.5" text-anchor="start" >0.8</text>
<line x1="76.6" y1="461.15" x2="115.3" y2="461.15" stroke="#3f2e90" stroke-width="2.3"/>
<text x="118.8" y="466.8" font-size="17.5" text-anchor="start" >1.2</text>
<line x1="76.6" y1="481.7" x2="115.3" y2="481.7" stroke="#0c7572" stroke-width="2.3"/>
<text x="118.8" y="487.2" font-size="17.5" text-anchor="start" >1.6</text>
<line x1="76.6" y1="502.25" x2="115.3" y2="502.25" stroke="#7a0000" stroke-width="2.3"/>
<text x="118.8" y="507.6" font-size="17.5" text-anchor="start" >2</text>
<line x1="76.6" y1="522.8" x2="115.3" y2="522.8" stroke="#6b6c0b" stroke-width="2.3"/>
<text x="118.8" y="528" font-size="17.5" text-anchor="start" >9</text>
<text x="79.5" y="384.4" font-size="16" text-anchor="start" ><tspan font-style="italic">T</tspan> (K)</text>
<line x1="62.4" y1="560.8" x2="62.4" y2="556" stroke="#231f20" stroke-width="1.2"/>
<line x1="62.4" y1="328.9" x2="62.4" y2="333.7" stroke="#231f20" stroke-width="1.2"/>
<line x1="105.22" y1="560.8" x2="105.22" y2="557.9" stroke="#231f20" stroke-width="1.2"/>
<line x1="105.22" y1="328.9" x2="105.22" y2="331.8" stroke="#231f20" stroke-width="1.2"/>
<line x1="148.03" y1="560.8" x2="148.03" y2="556" stroke="#231f20" stroke-width="1.2"/>
<line x1="148.03" y1="328.9" x2="148.03" y2="333.7" stroke="#231f20" stroke-width="1.2"/>
<line x1="190.85" y1="560.8" x2="190.85" y2="557.9" stroke="#231f20" stroke-width="1.2"/>
<line x1="190.85" y1="328.9" x2="190.85" y2="331.8" stroke="#231f20" stroke-width="1.2"/>
<line x1="233.67" y1="560.8" x2="233.67" y2="556" stroke="#231f20" stroke-width="1.2"/>
<line x1="233.67" y1="328.9" x2="233.67" y2="333.7" stroke="#231f20" stroke-width="1.2"/>
<line x1="276.48" y1="560.8" x2="276.48" y2="557.9" stroke="#231f20" stroke-width="1.2"/>
<line x1="276.48" y1="328.9" x2="276.48" y2="331.8" stroke="#231f20" stroke-width="1.2"/>
<line x1="319.3" y1="560.8" x2="319.3" y2="556" stroke="#231f20" stroke-width="1.2"/>
<line x1="319.3" y1="328.9" x2="319.3" y2="333.7" stroke="#231f20" stroke-width="1.2"/>
<line x1="62.4" y1="560.8" x2="67.2" y2="560.8" stroke="#231f20" stroke-width="1.2"/>
<line x1="319.3" y1="560.8" x2="314.5" y2="560.8" stroke="#231f20" stroke-width="1.2"/>
<line x1="62.4" y1="531.42" x2="65.3" y2="531.42" stroke="#231f20" stroke-width="1.2"/>
<line x1="319.3" y1="531.42" x2="316.4" y2="531.42" stroke="#231f20" stroke-width="1.2"/>
<line x1="62.4" y1="502.04" x2="67.2" y2="502.04" stroke="#231f20" stroke-width="1.2"/>
<line x1="319.3" y1="502.04" x2="314.5" y2="502.04" stroke="#231f20" stroke-width="1.2"/>
<line x1="62.4" y1="472.66" x2="65.3" y2="472.66" stroke="#231f20" stroke-width="1.2"/>
<line x1="319.3" y1="472.66" x2="316.4" y2="472.66" stroke="#231f20" stroke-width="1.2"/>
<line x1="62.4" y1="443.28" x2="67.2" y2="443.28" stroke="#231f20" stroke-width="1.2"/>
<line x1="319.3" y1="443.28" x2="314.5" y2="443.28" stroke="#231f20" stroke-width="1.2"/>
<line x1="62.4" y1="413.9" x2="65.3" y2="413.9" stroke="#231f20" stroke-width="1.2"/>
<line x1="319.3" y1="413.9" x2="316.4" y2="413.9" stroke="#231f20" stroke-width="1.2"/>
<line x1="62.4" y1="384.52" x2="67.2" y2="384.52" stroke="#231f20" stroke-width="1.2"/>
<line x1="319.3" y1="384.52" x2="314.5" y2="384.52" stroke="#231f20" stroke-width="1.2"/>
<line x1="62.4" y1="355.14" x2="65.3" y2="355.14" stroke="#231f20" stroke-width="1.2"/>
<line x1="319.3" y1="355.14" x2="316.4" y2="355.14" stroke="#231f20" stroke-width="1.2"/>
<rect x="62.4" y="328.9" width="256.9" height="231.9" fill="none" stroke="#231f20" stroke-width="1.5"/>
<line x1="62.4" y1="560.8" x2="319.3" y2="560.8" stroke="#6f6d2a" stroke-width="1.6"/>
<text x="62.4" y="578.8" font-size="17" text-anchor="middle" >0</text>
<text x="148.03" y="578.8" font-size="17" text-anchor="middle" >5</text>
<text x="233.67" y="578.8" font-size="17" text-anchor="middle" >10</text>
<text x="319.3" y="578.8" font-size="17" text-anchor="middle" >15</text>
<text x="58" y="566.9" font-size="17" text-anchor="end" >0</text>
<text x="58" y="508.14" font-size="17" text-anchor="end" >2</text>
<text x="58" y="449.38" font-size="17" text-anchor="end" >4</text>
<text x="58" y="390.62" font-size="17" text-anchor="end" >6</text>
<text x="163.1" y="601.6" font-size="24" text-anchor="start" textLength="57.4" lengthAdjust="spacing"><tspan font-style="italic">B</tspan> (T)</text>
<text transform="translate(21.8,510.9) rotate(-90)" font-size="23" textLength="160.5" lengthAdjust="spacing">ρ(<tspan font-style="italic">B</tspan>)/ρ(0) (<tspan font-size="19.5" dy="0.5">×</tspan><tspan dy="-0.5">10</tspan><tspan font-size="14" dy="-10">4</tspan><tspan dy="10">)</tspan></text>
<text x="1.2" y="335.3" font-size="24.5" text-anchor="start" font-weight="bold">c</text>
<path d="M420.5,560.64 L421.9,560.59 L423.3,560.69 L424.7,560.27 L426.1,560.15 L427.5,560.04 L428.9,559.62 L430.3,559.63 L431.7,559.49 L433.1,559.38 L434.5,558.73 L435.9,558.61 L437.3,558.23 L438.7,558.4 L440.1,558.05 L441.5,557.36 L442.9,557.62 L444.3,557.29 L445.7,556.77 L447.1,556.4 L448.5,555.77 L449.9,555.31 L451.3,555.24 L452.7,554.56 L454.1,554.23 L455.5,553.84 L456.9,553.28 L458.3,553.09 L459.7,552.61 L461.1,552.38 L462.5,551.7 L463.9,551.27 L465.3,550.68 L466.7,550.25 L468.1,549.59 L469.5,548.93 L470.9,548.8 L472.3,548.22 L473.7,547.54 L475.1,546.86 L476.5,546.01 L477.9,545.34 L479.3,544.73 L480.7,543.92 L482.1,543.69 L483.5,542.72 L484.9,542.38 L486.3,541.24 L487.7,541.08 L489.1,540.24 L490.5,538.5 L491.9,537.94 L493.3,538.06 L494.7,536.67 L496.1,536.61 L497.5,534.9 L498.9,533.52 L500.3,533.59 L501.7,533 L503.1,531.19 L504.5,529.93 L505.9,529.49 L507.3,529.89 L508.7,528.54 L510.1,526.18 L511.5,525.42 L512.9,524.02 L514.3,522.83 L515.7,523.63 L517.1,520.94 L518.5,520.87 L519.9,519.47 L521.3,517.62 L522.7,518.07 L524.1,515.13 L525.5,515.55 L526.9,512.73 L528.3,512.52 L529.7,510.64 L531.1,509.61 L532.5,510.83 L533.9,509.06 L535.3,506.03 L536.7,506.93 L538.1,503.17 L539.5,502.62 L540.9,503.18 L542.3,501.09 L543.7,497.61 L545.1,500.01 L546.5,495.44 L547.9,494.3 L549.3,495.23 L550.7,491.95 L552.1,490.49 L553.5,488.12 L554.9,486.84 L556.3,487.84 L557.7,484.84 L559.1,485.23 L560.5,482.71 L561.9,481.73 L563.1,478.9 L563.37,477.44 L563.74,475.29 L564.2,473.3 L564.7,472.3 L565.26,472.96 L565.89,474.69 L566.55,476.45 L567.2,477.2 L567.83,476.28 L568.46,474.38 L569.09,472.46 L569.7,471.5 L570.26,472.25 L570.79,474.04 L571.35,475.68 L572,476 L572.79,474.15 L573.69,470.92 L574.59,467.67 L575.4,465.7 L576.09,465.96 L576.71,467.53 L577.3,469.02 L577.9,469 L578.52,466.47 L579.13,462.4 L579.75,458.33 L580.4,455.8 L581.07,455.68 L581.77,456.99 L582.48,458.53 L583.2,459.1 L583.93,457.94 L584.68,455.84 L585.43,453.92 L586.2,453.3 L586.98,455.09 L587.78,458.41 L588.59,461.46 L589.4,462.4 L590.22,459.72 L591.04,454.74 L591.87,449.89 L592.7,447.6 L593.54,449.67 L594.4,454.41 L595.23,459.05 L596,460.8 L596.68,458.19 L597.3,452.94 L597.89,447.07 L598.5,442.6 L599.12,440.02 L599.75,438.26 L600.38,437.03 L601,436 L601.63,435.13 L602.26,434.58 L602.88,434.34 L603.5,434.4 L604.12,435.33 L604.75,436.93 L605.35,438.1 L605.9,437.7 L606.35,434.28 L606.72,428.82 L607.11,423.87 L607.6,422 L608.23,425.44 L608.95,432.31 L609.72,438.97 L610.5,441.8 L611.29,438.26 L612.1,430.81 L612.94,423.3 L613.8,419.6 L614.73,422.03 L615.71,428.09 L616.66,434.43 L617.5,437.7 L618.2,435.98 L618.81,431.41 L619.36,426.68 L619.9,424.5 L620.41,427.06 L620.88,432.43 L621.35,437.14 L621.9,437.7 L622.57,431.32 L623.33,420.48 L624.07,409.62 L624.7,403.2 L625.17,403.51 L625.55,407.82 L625.88,413.01 L626.2,416 L626.5,415.49 L626.76,413.3 L627.04,410.96 L627.4,410 L627.86,411.96 L628.38,415.63 L628.94,418.49 L629.5,418 L630.07,411.71 L630.68,401.57 L631.26,391.62 L631.8,385.9 L632.26,386.2 L632.67,390.12 L633.07,395.46 L633.5,400 L633.96,404.08 L634.42,408.56 L634.91,412.04 L635.4,413.1 L635.88,410.69 L636.36,405.8 L636.88,400.03 L637.5,395 L638.29,390.42 L639.2,385.68 L640.11,381.87 L640.9,380.1 L641.51,381.17 L642.02,384.32 L642.49,388.33 L643,392 L643.55,395.99 L644.11,400.63 L644.69,404.15 L645.3,404.8 L645.99,400.54 L646.73,392.83 L647.45,385.15 L648.1,381 L648.63,382.54 L649.08,387.49 L649.51,392.7 L650,395 L650.56,392.73 L651.16,387.86 L651.77,382.63 L652.4,379.3 L653.03,378.21 L653.68,378.24 L654.34,379.48 L655,382 L655.65,387.26 L656.31,394.75 L656.98,401.56 L657.7,404.8 L658.51,403.17 L659.39,398.39 L660.25,392.09 L661,385.9 L661.6,379.86 L662.11,373.24 L662.56,366.47 L663,360 L663.4,353.09 L663.74,345.79 L664.12,339.72 L664.6,336.5 L665.24,337.04 L665.99,340.31 L666.77,345.05 L667.5,350 L668.15,356.65 L668.77,365.06 L669.38,371.82 L670,373.5 L670.65,366.87 L671.31,354.53 L671.95,341.8 L672.5,334 L672.95,333 L673.31,335.81 L673.65,340.47 L674,345 L674.41,349.73 L674.84,355.44 L675.23,360.8 L675.5,364.5" fill="none" stroke="#17ab6a" stroke-width="2.7" stroke-linejoin="round" stroke-linecap="round" />
<path d="M420.5,559.26 L421.7,559.17 L423.93,558.97 L423.93,558.97 L425.04,558.86 L427.11,558.63 L427.11,558.63 L428.39,558.48 L430.76,558.16 L430.76,558.16 L432.35,557.92 L435.32,557.44 L435.32,557.44 L436.39,557.25 L438.39,556.88 L438.39,556.88 L439.99,556.56 L442.97,555.93 L442.97,555.93 L443.84,555.73 L445.46,555.35 L445.46,555.35 L446.38,555.13 L448.09,554.7 L448.09,554.7 L449.22,554.4 L451.33,553.83 L451.33,553.83 L452.13,553.6 L453.61,553.18 L453.61,553.18 L454.7,552.85 L456.74,552.23 L456.74,552.23 L457.72,551.92 L459.55,551.32 L459.55,551.32 L460.34,551.05 L461.82,550.55 L461.82,550.55 L462.98,550.14 L465.13,549.36 L465.13,549.36 L466.06,549.02 L467.79,548.36 L467.79,548.36 L469.14,547.83 L471.65,546.82 L471.65,546.79 L472.85,546.09 L475.09,545.27 L475.09,545.33 L476.7,544.46 L479.69,543.24 L479.69,543.25 L480.47,542.71 L481.91,542.2 L481.91,542.26 L482.69,541.85 L484.13,541.18 L484.13,541.18 L485.36,540.55 L487.64,539.42 L487.64,539.34 L488.99,538.36 L491.5,537.13 L491.5,536.82 L492.51,534.79 L494.39,534.86 L494.39,535.18 L495.95,533.66 L498.86,532.1 L498.86,532.14 L500.27,530.73 L502.89,529.26 L502.89,529.31 L504.29,528 L506.89,526.35 L506.89,525.73 L508.06,522.47 L510.22,523.12 L510.22,523.3 L511.87,519.88 L514.93,519.24 L514.93,519.4 L516.41,516.39 L519.18,515.63 L519.18,516.18 L520.46,514.98 L522.84,512.88 L522.84,511.94 L524.43,507.41 L527.38,507.96 L527.38,508.59 L528.23,506.53 L529.83,506.42 L529.83,506.1 L531.09,502.61 L533.44,502.85 L533.44,503.31 L534.57,501.34 L536.66,500.34 L536.66,500.53 L537.56,499.34 L539.23,498.11 L539.23,497.1 L540.6,492.23 L543.15,493.33 L543.15,494.23 L544.32,492.4 L546.5,490.93 L546.5,490.01 L547.57,485.36 L549.55,486.95 L549.55,487.56 L550.5,484.98 L552.28,484.91 L552.28,485.23 L553.68,483.25 L556.29,481.28 L556.29,480.93 L557.29,478.19 L559.14,478.07 L559.14,477.7 L560.4,473.53 L561.5,475.3 L561,472.32 L562.2,473.15 L562.2,481.15 L561.5,480.58 L560.4,481.68 L559.14,483.04 L559.14,483.11 L557.29,484.68 L556.29,485.64 L556.29,485.65 L553.68,488.25 L552.28,489.64 L552.28,489.63 L550.5,491.13 L549.55,492.32 L549.55,492.3 L547.57,494.21 L546.5,495.39 L546.5,495.3 L544.32,497.36 L543.15,498.35 L543.15,498.42 L540.6,501 L539.23,502.14 L539.23,501.98 L537.56,503.54 L536.66,504.51 L536.66,504.36 L534.57,506.39 L533.44,507.36 L533.44,507.24 L531.09,509.36 L529.83,510.62 L529.83,510.39 L528.23,511.66 L527.38,512.64 L527.38,512.61 L524.43,514.91 L522.84,516.33 L522.84,516.22 L520.46,518.28 L519.18,519.47 L519.18,519.45 L516.41,521.96 L514.93,523.22 L514.93,523 L511.87,525.66 L510.22,527.06 L510.22,526.86 L508.06,528.59 L506.89,529.46 L506.89,529.59 L504.29,531.38 L502.89,532.18 L502.89,532.26 L500.27,534.23 L498.86,535.18 L498.86,535.01 L495.95,537.01 L494.39,537.86 L494.39,538.12 L492.51,539.36 L491.5,539.7 L491.5,539.81 L488.99,541.33 L487.64,542.01 L487.64,541.89 L485.36,543.07 L484.13,543.86 L484.13,543.59 L482.69,544.3 L481.91,544.82 L481.91,544.97 L480.47,545.61 L479.69,545.8 L479.69,545.74 L476.7,547.16 L475.09,548.09 L475.09,548.1 L472.85,548.74 L471.65,549.43 L471.65,549.51 L469.14,550.55 L467.79,550.97 L467.79,551.02 L466.06,551.7 L465.13,552.15 L465.13,551.94 L462.98,552.9 L461.82,553.04 L461.82,553.26 L460.34,553.64 L459.55,553.95 L459.55,553.92 L457.72,554.39 L456.74,554.82 L456.74,554.98 L454.7,555.38 L453.61,555.7 L453.61,555.71 L452.13,556.01 L451.33,556.24 L451.33,556.47 L449.22,557.01 L448.09,557.26 L448.09,557.17 L446.38,557.86 L445.46,558.13 L445.46,557.9 L443.84,558.4 L442.97,558.67 L442.97,558.35 L439.99,558.97 L438.39,559.64 L438.39,559.66 L436.39,560.04 L435.32,559.9 L435.32,559.97 L432.35,560.69 L430.76,560.63 L430.76,560.89 L428.39,561.1 L427.11,561.37 L427.11,561.19 L425.04,561.39 L423.93,561.45 L423.93,561.77 L421.7,561.91 L420.5,561.8Z" fill="#d466a4" stroke="#d466a4" stroke-width="0.6" stroke-linejoin="round"/>
<path d="M420.5,561.27 L421.5,561.19 L422.5,561.11 L423.5,561.02 L424.5,560.93 L425.5,560.83 L426.5,560.72 L427.5,560.61 L428.5,560.49 L429.5,560.36 L430.5,560.23 L431.5,560.08 L432.5,559.94 L433.5,559.78 L434.5,559.62 L435.5,559.45 L436.5,559.28 L437.5,559.1 L438.5,558.91 L439.5,558.72 L440.5,558.52 L441.5,558.31 L442.5,558.1 L443.5,557.87 L444.5,557.65 L445.5,557.41 L446.5,557.17 L447.5,556.93 L448.5,556.67 L449.5,556.41 L450.5,556.14 L451.5,555.87 L452.5,555.59 L453.5,555.3 L454.5,555.01 L455.5,554.71 L456.5,554.41 L457.5,554.09 L458.5,553.77 L459.5,553.45 L460.5,553.11 L461.5,552.78 L462.5,552.43 L463.5,552.08 L464.5,551.72 L465.5,551.35 L466.5,550.98 L467.5,550.61 L468.5,550.22 L469.5,549.83 L470.5,549.43 L471.5,549.03 L472.5,548.62 L473.5,548.2 L474.5,547.78 L475.5,547.35 L476.5,546.91 L477.5,546.47 L478.5,546.02 L479.5,545.56 L480.5,545.1 L481.5,544.63 L482.5,544.16 L483.5,543.68 L484.5,543.19 L485.5,542.7 L486.5,542.2 L487.5,541.69 L488.5,541.18 L489.5,540.66 L490.5,540.13 L491.5,539.6 L492.5,539.06 L493.5,538.52 L494.5,537.96 L495.5,537.41 L496.5,536.84 L497.5,536.27 L498.5,535.69 L499.5,535.11 L500.5,534.52 L501.5,533.93 L502.5,533.32 L503.5,532.72 L504.5,532.1 L505.5,531.48 L506.5,530.85 L507.5,530.22 L508.5,529.58 L509.5,528.93 L510.5,528.28 L511.5,527.62 L512.5,526.96 L513.5,526.29 L514.5,525.61 L515.5,524.93 L516.5,524.24 L517.5,523.54 L518.5,522.84 L519.5,522.13 L520.5,521.42 L521.5,520.7 L522.5,519.97 L523.5,519.24 L524.5,518.5 L525.5,517.75 L526.5,517 L527.5,516.24 L528.5,515.48 L529.5,514.71 L530.5,513.93 L531.5,513.15 L532.5,512.36 L533.5,511.56 L534.5,510.76 L535.5,509.96 L536.5,509.14 L537.5,508.32 L538.5,507.5 L539.5,506.67 L540.5,505.83 L541.5,504.98 L542.5,504.13 L543.5,503.28 L544.5,502.42 L545.5,501.55 L546.5,500.67 L547.5,499.79 L548.5,498.91 L549.5,498.01 L550.5,497.12 L551.5,496.21 L552.5,495.3 L553.5,494.38 L554.5,493.46 L555.5,492.53 L556.5,491.6 L557.5,490.66 L558.5,489.71 L559.5,488.76 L560.5,487.8 L561.5,486.83 L562.5,485.86 L563.5,484.89 L564.5,483.9 L565.5,482.91 L566.5,481.92 L567.5,480.92 L568.5,479.91 L569.5,478.9 L570.5,477.88 L571.5,476.86 L572.5,475.83 L573.5,474.79 L574.5,473.75 L575.5,472.7 L576.5,471.65 L577.5,470.59 L578.5,469.52 L579.5,468.45 L580.5,467.37 L581.5,466.29 L582.5,465.2 L583.5,464.1 L584.5,463 L585.5,461.89 L586.5,460.78 L587.5,459.66 L588.5,458.54 L589.5,457.41 L590.5,456.27 L591.5,455.13 L592.5,453.98 L593.5,452.83 L594.5,451.67 L595.5,450.5 L596.5,449.33 L597.5,448.15 L598.5,446.97 L599.5,445.78 L600.5,444.59 L601.5,443.39 L602.5,442.18 L603.5,440.97 L604.5,439.75 L605.5,438.53 L606.5,437.3 L607.5,436.06 L608.5,434.82 L609.5,433.58 L610.5,432.32 L611.5,431.07 L612.5,429.8 L613.5,428.53 L614.5,427.26 L615.5,425.98 L616.5,424.69 L617.5,423.4 L618.5,422.1 L619.5,420.8 L620.5,419.49 L621.5,418.17 L622.5,416.85 L623.5,415.53 L624.5,414.19 L625.5,412.86 L626.5,411.51 L627.5,410.16 L628.5,408.81 L629.5,407.45 L630.5,406.08 L631.5,404.71 L632.5,403.34 L633.5,401.95 L634.5,400.56 L635.5,399.17 L636.5,397.77 L637.5,396.37 L638.5,394.96 L639.5,393.54 L640.5,392.12 L641.5,390.69 L642.5,389.26 L643.5,387.82 L644.5,386.37 L645.5,384.93 L646.5,383.47 L647.5,382.01 L648.5,380.54 L649.5,379.07 L650.5,377.59 L651.5,376.11 L652.5,374.62 L653.5,373.13 L654.5,371.63 L655.5,370.13 L656.5,368.62 L657.5,367.1 L658.5,365.58 L659.5,364.05 L660.5,362.52 L661.5,360.98 L662.5,359.44 L663.5,357.89 L664.5,356.34 L665.5,354.78 L666.5,353.21 L667.5,351.64 L668.5,350.07 L669.5,348.48 L670.5,346.9 L671.5,345.31 L672.5,343.71 L673.5,342.1 L674.5,340.5 L675.5,338.88" fill="none" stroke="#231f20" stroke-width="2.3" stroke-linejoin="round" stroke-linecap="round" />
<line x1="433.8" y1="375.2" x2="472.7" y2="375.2" stroke="#d466a4" stroke-width="2.3"/>
<line x1="433.8" y1="395.6" x2="472.7" y2="395.6" stroke="#17ab6a" stroke-width="2.3"/>
<line x1="433.8" y1="418.4" x2="472.7" y2="418.4" stroke="#231f20" stroke-width="1.8"/>
<text x="476" y="381.6" font-size="16.5" text-anchor="start" >S2</text>
<text x="476" y="401.8" font-size="16.5" text-anchor="start" >S6</text>
<text x="476" y="424.4" font-size="16.5" text-anchor="start" >a<tspan font-style="italic">B</tspan><tspan font-size="9" dx="0.8" dy="-7">2</tspan></text>
<line x1="420.3" y1="561.3" x2="420.3" y2="556.5" stroke="#231f20" stroke-width="1.2"/>
<line x1="420.3" y1="329.6" x2="420.3" y2="334.4" stroke="#231f20" stroke-width="1.2"/>
<line x1="463" y1="561.3" x2="463" y2="558.4" stroke="#231f20" stroke-width="1.2"/>
<line x1="463" y1="329.6" x2="463" y2="332.5" stroke="#231f20" stroke-width="1.2"/>
<line x1="505.7" y1="561.3" x2="505.7" y2="556.5" stroke="#231f20" stroke-width="1.2"/>
<line x1="505.7" y1="329.6" x2="505.7" y2="334.4" stroke="#231f20" stroke-width="1.2"/>
<line x1="548.4" y1="561.3" x2="548.4" y2="558.4" stroke="#231f20" stroke-width="1.2"/>
<line x1="548.4" y1="329.6" x2="548.4" y2="332.5" stroke="#231f20" stroke-width="1.2"/>
<line x1="591.1" y1="561.3" x2="591.1" y2="556.5" stroke="#231f20" stroke-width="1.2"/>
<line x1="591.1" y1="329.6" x2="591.1" y2="334.4" stroke="#231f20" stroke-width="1.2"/>
<line x1="633.8" y1="561.3" x2="633.8" y2="558.4" stroke="#231f20" stroke-width="1.2"/>
<line x1="633.8" y1="329.6" x2="633.8" y2="332.5" stroke="#231f20" stroke-width="1.2"/>
<line x1="676.5" y1="561.3" x2="676.5" y2="556.5" stroke="#231f20" stroke-width="1.2"/>
<line x1="676.5" y1="329.6" x2="676.5" y2="334.4" stroke="#231f20" stroke-width="1.2"/>
<line x1="420.3" y1="561.2" x2="425.1" y2="561.2" stroke="#231f20" stroke-width="1.2"/>
<line x1="676.5" y1="561.2" x2="671.7" y2="561.2" stroke="#231f20" stroke-width="1.2"/>
<line x1="420.3" y1="521.98" x2="423.2" y2="521.98" stroke="#231f20" stroke-width="1.2"/>
<line x1="676.5" y1="521.98" x2="673.6" y2="521.98" stroke="#231f20" stroke-width="1.2"/>
<line x1="420.3" y1="482.76" x2="425.1" y2="482.76" stroke="#231f20" stroke-width="1.2"/>
<line x1="676.5" y1="482.76" x2="671.7" y2="482.76" stroke="#231f20" stroke-width="1.2"/>
<line x1="420.3" y1="443.54" x2="423.2" y2="443.54" stroke="#231f20" stroke-width="1.2"/>
<line x1="676.5" y1="443.54" x2="673.6" y2="443.54" stroke="#231f20" stroke-width="1.2"/>
<line x1="420.3" y1="404.32" x2="425.1" y2="404.32" stroke="#231f20" stroke-width="1.2"/>
<line x1="676.5" y1="404.32" x2="671.7" y2="404.32" stroke="#231f20" stroke-width="1.2"/>
<line x1="420.3" y1="365.1" x2="423.2" y2="365.1" stroke="#231f20" stroke-width="1.2"/>
<line x1="676.5" y1="365.1" x2="673.6" y2="365.1" stroke="#231f20" stroke-width="1.2"/>
<rect x="420.3" y="329.6" width="256.2" height="231.7" fill="none" stroke="#231f20" stroke-width="1.5"/>
<text x="420.3" y="578.8" font-size="17" text-anchor="middle" >0</text>
<text x="505.7" y="578.8" font-size="17" text-anchor="middle" >20</text>
<text x="591.1" y="578.8" font-size="17" text-anchor="middle" >40</text>
<text x="677.3" y="578.8" font-size="17" text-anchor="middle" >60</text>
<text x="415.2" y="567.3" font-size="17" text-anchor="end" >0</text>
<text x="415.2" y="488.86" font-size="17" text-anchor="end" >2</text>
<text x="415.2" y="410.42" font-size="17" text-anchor="end" >4</text>
<text x="528.8" y="601.6" font-size="24" text-anchor="start" textLength="55.5" lengthAdjust="spacing"><tspan font-style="italic">B</tspan> (T)</text>
<text transform="translate(386.6,516.7) rotate(-90)" font-size="22" textLength="152.2" lengthAdjust="spacing">ρ(<tspan font-style="italic">B</tspan>)/ρ(0) (<tspan font-size="18.5" dy="0.5">×</tspan><tspan dy="-0.5">10</tspan><tspan font-size="13.5" dy="-9.5">3</tspan><tspan dy="9.5">)</tspan></text>
<text x="365.8" y="335.2" font-size="24.5" text-anchor="start" font-weight="bold">d</text>
</svg>
</body></html>
